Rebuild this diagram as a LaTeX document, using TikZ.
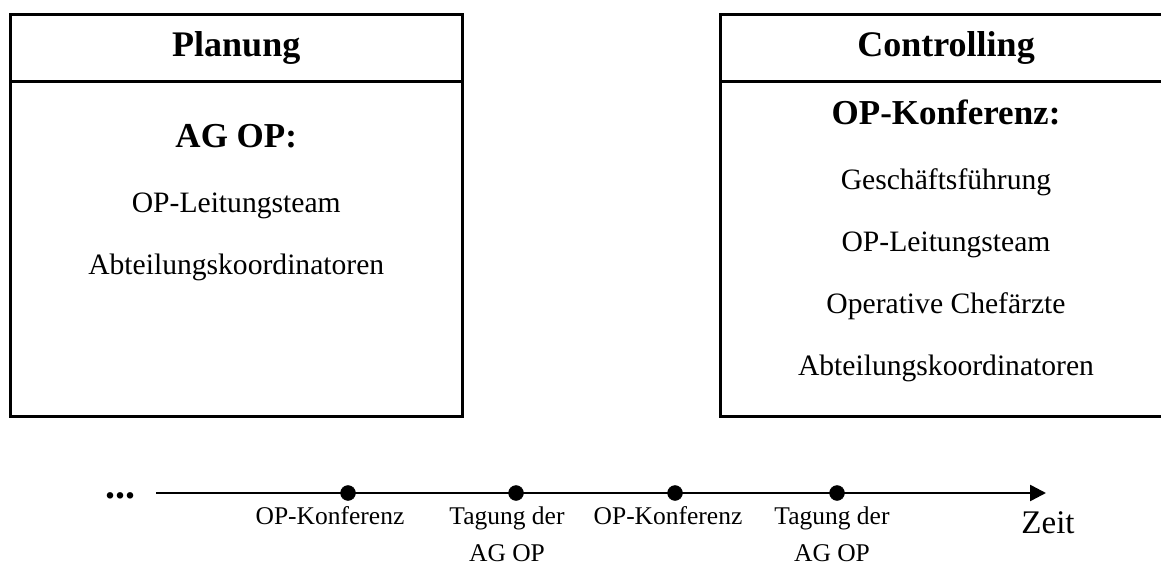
\documentclass[tikz,border=0pt]{standalone}
\usepackage{fontspec}
\setmainfont{Liberation Serif}
\usetikzlibrary{positioning,arrows.meta}

\tikzset{
  frame/.style = {draw, line width=3pt, outer sep=0pt, inner sep=0pt, minimum width=451.5pt},
  head/.style = {font=\bfseries\fontsize{36}{42}\selectfont},
  title/.style = {font=\bfseries\fontsize{35}{42}\selectfont, inner sep=0pt, text height=25pt, text depth=8pt},
  member/.style = {font=\fontsize{29.6}{35}\selectfont, inner sep=0pt, text height=21pt, text depth=7pt},
  event/.style = {draw, fill, circle, inner sep=0pt, minimum size=15pt},
  tlabel/.style = {font=\fontsize{25.5}{30}\selectfont, inner sep=0pt, anchor=base},
}

\begin{document}
\begin{tikzpicture}[x=1pt, y=1pt, node distance=62pt]
  \useasboundingbox (0,0) rectangle (1161,565);

  % Planung
  \node[frame, head, minimum height=66.3pt, anchor=north west] (plan) at (10.5,550) {Planung};
  \node[frame, minimum height=335.2pt, below=0pt of plan] (planbody) {};
  \node[title] (agop) at (236.25,425.5) {AG OP:};
  \node[member, on grid, below=66.5pt of agop] (leit1) {OP-Leitungsteam};
  \node[member, on grid, below=of leit1] (koord1) {Abteilungskoordinatoren};

  % Controlling
  \node[frame, head, minimum height=66.3pt, anchor=north west] (ctrl) at (720.3,550) {Controlling};
  \node[frame, minimum height=335.2pt, below=0pt of ctrl] (ctrlbody) {};
  \node[title] (opk) at (946,448.5) {OP-Konferenz:};
  \node[member, on grid, below=66.5pt of opk] (gf) {Geschäftsführung};
  \node[member, on grid, below=of gf] (leit2) {OP-Leitungsteam};
  \node[member, on grid, below=of leit2] (chef) {Operative Chefärzte};
  \node[member, on grid, below=of chef] (koord2) {Abteilungskoordinatoren};

  % Zeitachse
  \coordinate (tstart) at (156,72);
  \coordinate (tend) at (1046,72);
  \draw[line width=2.5pt, -{Triangle[length=16pt, width=16pt]}] (tstart) -- (tend);
  \node[event] (e1) at (348,72) {};
  \node[event] (e2) at (516,72) {};
  \node[event] (e3) at (675,72) {};
  \node[event] (e4) at (837,72) {};

  \node[tlabel] (l1) at (330,41) {OP-Konferenz};
  \node[tlabel] (l2) at (507,41) {Tagung der};
  \node[tlabel] (l2b) at ([yshift=-37pt]l2.base) {AG OP};
  \node[tlabel] (l3) at (668,41) {OP-Konferenz};
  \node[tlabel] (l4) at (832,41) {Tagung der};
  \node[tlabel] (l4b) at ([yshift=-37pt]l4.base) {AG OP};

  \node[font=\fontsize{33}{40}\selectfont, anchor=base] (zeit) at (1048,32) {Zeit};
  \node[font=\bfseries\fontsize{40}{40}\selectfont, anchor=base] (dots) at (120,67) {...};
\end{tikzpicture}
\end{document}
